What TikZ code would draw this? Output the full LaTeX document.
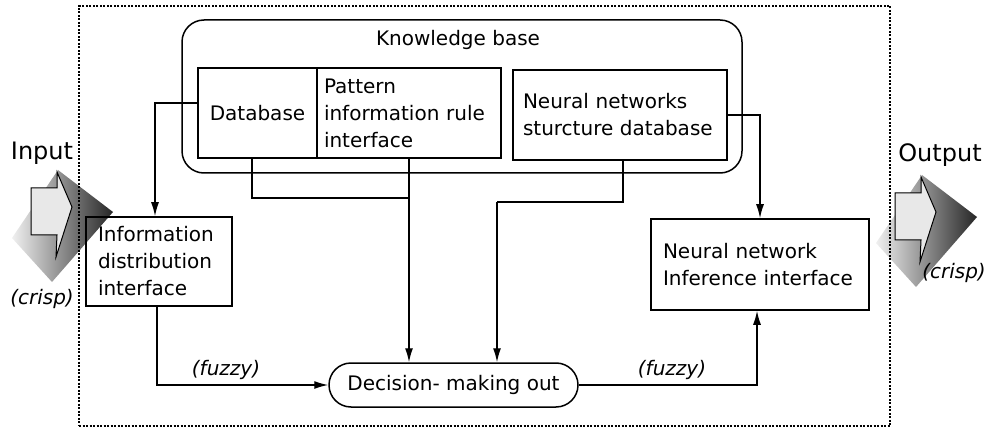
\documentclass[tikz,border=0pt]{standalone}
\usepackage{fontspec}
\setmainfont{DejaVu Sans}
\usetikzlibrary{arrows.meta}
\newcommand{\fs}{\fontsize{20}{27}\selectfont}
\newcommand{\fb}{\fontsize{24}{28}\selectfont}
\begin{document}
\begin{tikzpicture}[x=1pt,y=-1pt,
  box/.style={draw, line width=1.5pt, font=\fs, inner ysep=0pt},
  lbox/.style={box, align=left},
  conn/.style={line width=1.4pt},
  arr/.style={conn, -{Latex[length=14pt,width=8pt]}},
  lbl/.style={font=\fs\itshape},
  big/.style={font=\fb},
  face/.style={draw=black, line width=1pt, fill=gray!18},
  body/.style={left color=gray!12, right color=black!85},
  frm/.style={draw, line width=2pt, dash pattern=on 2pt off 1.5pt, inner sep=0pt},
]
\useasboundingbox (0,0) rectangle (987,430);

% 3D block arrows
\shade[body] (58,170) -- (113,212) -- (52,282) -- (12,238) -- cycle;
\filldraw[face] (31,188) -- (57,188) -- (57,172) -- (72,207) -- (56,257) -- (57,235) -- (31,235) -- cycle;
\begin{scope}[shift={(864,5)}]
\shade[body] (58,170) -- (113,212) -- (52,282) -- (12,238) -- cycle;
\filldraw[face] (31,188) -- (57,188) -- (57,172) -- (72,207) -- (56,257) -- (57,235) -- (31,235) -- cycle;
\end{scope}

% dotted frame
\node[frm, minimum width=811pt, minimum height=420pt] (frame) at (484.5,216) {};

% knowledge base
\node[draw, line width=1.5pt, rounded corners=22pt, minimum width=560pt, minimum height=153pt, inner sep=0pt] (kb) at (462,96.5) {};
\node[font=\fs] (kbt) at (458,40) {Knowledge base};

\node[box, minimum width=119pt, minimum height=90pt, inner xsep=0pt] (db) at (257.5,113) {Database};
\node[lbox, minimum width=184pt, minimum height=90pt, inner xsep=7pt, text width=170pt] (pat) at (409,113) {Pattern\\information rule\\interface};
\node[lbox, minimum width=214pt, minimum height=90pt, inner xsep=10pt, text width=194pt] (nns) at (620,115) {Neural networks\\sturcture database};

\node[lbox, minimum width=146pt, minimum height=89pt, inner xsep=12pt, text width=122pt] (info) at (159,261.5) {Information\\distribution\\interface};
\node[lbox, minimum width=218pt, minimum height=91pt, inner xsep=12pt, text width=194pt] (inf) at (760,264.5) {Neural network\\Inference interface};
\node[box, rounded corners=22pt, minimum width=249pt, minimum height=44pt] (dec) at (453.5,385) {Decision- making out};

% connectors
\coordinate (j1) at (409,198);
\coordinate (j2) at (497,202);
\draw[arr] ([yshift=10pt]db.west) -| ([xshift=-4pt]info.north);
\draw[arr] (nns.east) -| (inf.north);
\draw[conn] ([xshift=-5.5pt]db.south) |- (j1);
\draw[arr] (pat.south) -- (pat.south |- dec.north);
\draw[conn] ([xshift=3pt]nns.south) |- (j2);
\draw[arr] (j2) -- (j2 |- dec.north);
\draw[arr] ([xshift=-2pt]info.south) |- (dec.west);
\draw[arr] (dec.east) -| ([xshift=-3pt]inf.south);

% labels
\node[lbl] (fz1) at (226,370) {(fuzzy)};
\node[lbl] (fz2) at (672,370) {(fuzzy)};
\node[big] (in) at (42,153) {Input};
\node[big] (out) at (940,155) {Output};
\node[lbl] (cr1) at (42,299) {(crisp)};
\node[lbl] (cr2) at (954,273) {(crisp)};
\end{tikzpicture}
\end{document}
